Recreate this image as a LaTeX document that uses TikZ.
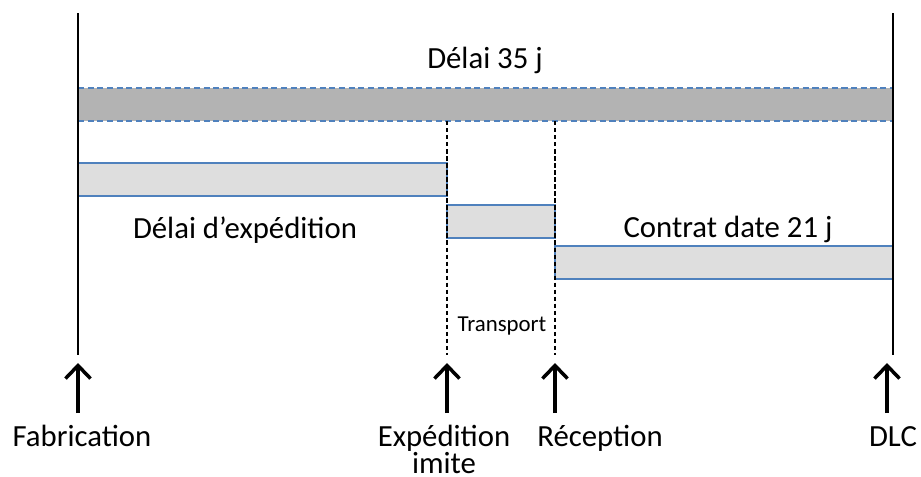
\documentclass[tikz,border=0pt]{standalone}
\usepackage{fontspec}
\setmainfont{Carlito}
\usetikzlibrary{positioning, calc, arrows.meta}
\definecolor{barblue}{RGB}{79,129,189}
\definecolor{bardark}{RGB}{179,179,179}
\definecolor{barlight}{RGB}{222,222,222}

\tikzset{
  lbl/.style={font=\fontsize{17.5}{20}\selectfont, inner sep=0pt},
  smalllbl/.style={font=\fontsize{13}{15}\selectfont, inner sep=0pt},
  bar/.style={fill=barlight, draw=barblue, line width=0.6pt},
  limit/.style={black, line width=0.8pt},
  cut/.style={black, line width=0.7pt, dash pattern=on 2.5pt off 1.5pt},
  uparrow/.style={black, line width=2pt, -{Straight Barb[length=2.6mm, width=5mm, line width=2pt]}}
}

\begin{document}
\begin{tikzpicture}[x=0.02cm, y=-0.02cm]
        \useasboundingbox (0,0) rectangle (921,477);

        \fill[bardark] (78,88) rectangle (893,121);                                        %total
        \draw[barblue, line width=0.6pt, dash pattern=on 3.5pt off 2pt] (78,88) -- (893,88);   %total top
        \draw[barblue, line width=0.6pt, dash pattern=on 3.5pt off 2pt] (78,121) -- (893,121); %total bottom

        \draw[bar] (78,163)  rectangle (447,196);  %expedition
        \draw[bar] (447,205) rectangle (555,238);  %transport
        \draw[bar] (555,246) rectangle (893,279);  %contrat

        \draw[limit] (78,13)   -- (78,355);   %left
        \draw[limit] (893,13)  -- (893,355);  %right
        \draw[cut]   (447,121) -- (447,355);  %expedition
        \draw[cut]   (555,121) -- (555,355);  %reception

        \node[lbl] (total)   at (485,60)  {Délai 35 j};
        \node[lbl] (delexp)  at (245,230) {Délai d’expédition};
        \node[lbl] (contrat) at (728,229) {Contrat date 21 j};
        \node[smalllbl] (transport) at (502,326) {Transport};

        \node[lbl, anchor=base] (fab)   at (82,446)  {Fabrication};
        \node[lbl, anchor=base, align=center, font=\fontsize{17.5}{15}\selectfont] (exp) at (444,473) {Expédition\\imite};
        \node[lbl, anchor=base west] (rec) at (537,446) {Réception};
        \node[lbl, anchor=base] (dlc)   at (893,446) {DLC};

        \coordinate (fabtail) at (78,413);   \coordinate (fabtip) at (78,363);
        \coordinate (exptail) at (447,413);  \coordinate (exptip) at (447,363);
        \coordinate (rectail) at (555,413);  \coordinate (rectip) at (555,363);
        \coordinate (dlctail) at (887,413);  \coordinate (dlctip) at (887,363);

        \draw[uparrow] (fabtail) -- (fabtip);
        \draw[uparrow] (exptail) -- (exptip);
        \draw[uparrow] (rectail) -- (rectip);
        \draw[uparrow] (dlctail) -- (dlctip);
\end{tikzpicture}
\end{document}
